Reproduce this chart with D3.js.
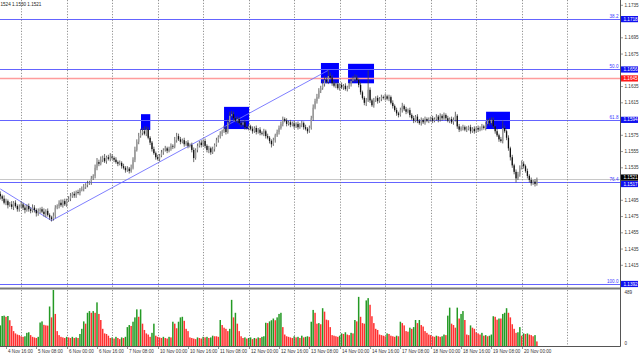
<!DOCTYPE html>
<html><head><meta charset="utf-8">
<script src="https://cdn.jsdelivr.net/npm/d3@7"></script>
<style>
html,body{margin:0;padding:0;background:#fff;overflow:hidden}
svg{display:block}
text{font-family:"Liberation Sans",Arial,sans-serif}
</style>
</head><body>
<svg id="c" width="640" height="356"></svg>
<script>
// ---- DATA (EURUSD H1, bars from 4 Nov 13:00 to 20 Nov 08:00) ----
const firstOpen = 1.1503;
const closes = [
1.1500,1.1497,1.1492,1.1494,1.1489,1.1490,1.1487,1.1492,1.1488,1.1484,
1.1487,1.1490,1.1486,1.1483,1.1488,1.1484,1.1482,1.1486,1.1483,1.1479,
1.1482,1.1484,1.1481,1.1478,1.1482,1.1477,1.1474,1.1472,1.1476,1.1486,
1.1488,1.1492,1.1489,1.1494,1.1490,1.1495,1.1497,1.1500,1.1503,1.1501,
1.1505,1.1504,1.1508,1.1509,1.1511,1.1514,1.1516,1.1517,1.1522,1.1525,
1.1535,1.1542,1.1540,1.1545,1.1547,1.1543,1.1548,1.1546,1.1549,1.1547,
1.1545,1.1542,1.1540,1.1541,1.1537,1.1535,1.1532,1.1534,1.1531,1.1535,
1.1545,1.1557,1.1567,1.1574,1.1578,1.1580,1.1577,1.1582,1.1572,1.1566,
1.1558,1.1553,1.1548,1.1546,1.1550,1.1554,1.1557,1.1559,1.1556,1.1558,
1.1562,1.1561,1.1569,1.1574,1.1570,1.1567,1.1569,1.1564,1.1566,1.1562,
1.1563,1.1557,1.1547,1.1557,1.1562,1.1566,1.1563,1.1568,1.1562,1.1557,
1.1559,1.1554,1.1558,1.1563,1.1569,1.1573,1.1577,1.1580,1.1583,1.1579,
1.1591,1.1599,1.1601,1.1596,1.1593,1.1595,1.1590,1.1588,1.1591,1.1585,
1.1584,1.1586,1.1583,1.1580,1.1584,1.1579,1.1582,1.1578,1.1577,1.1580,
1.1574,1.1572,1.1568,1.1564,1.1569,1.1575,1.1579,1.1584,1.1589,1.1595,
1.1593,1.1589,1.1591,1.1588,1.1590,1.1586,1.1589,1.1585,1.1588,1.1590,
1.1585,1.1583,1.1580,1.1584,1.1596,1.1609,1.1617,1.1622,1.1630,1.1633,
1.1638,1.1643,1.1641,1.1648,1.1646,1.1639,1.1636,1.1638,1.1633,1.1637,
1.1634,1.1636,1.1632,1.1634,1.1638,1.1642,1.1644,1.1646,1.1643,1.1637,
1.1628,1.1621,1.1615,1.1618,1.1631,1.1618,1.1612,1.1618,1.1621,1.1617,
1.1620,1.1622,1.1621,1.1623,1.1620,1.1622,1.1615,1.1611,1.1606,1.1602,
1.1600,1.1606,1.1611,1.1607,1.1604,1.1606,1.1600,1.1596,1.1593,1.1598,
1.1593,1.1590,1.1594,1.1591,1.1595,1.1593,1.1594,1.1596,1.1593,1.1595,
1.1598,1.1594,1.1599,1.1596,1.1600,1.1596,1.1593,1.1595,1.1591,1.1594,
1.1599,1.1586,1.1582,1.1584,1.1585,1.1582,1.1583,1.1585,1.1580,1.1583,
1.1580,1.1584,1.1582,1.1584,1.1586,1.1584,1.1589,1.1593,1.1590,1.1594,
1.1586,1.1580,1.1575,1.1570,1.1568,1.1584,1.1580,1.1572,1.1559,1.1548,
1.1538,1.1530,1.1522,1.1527,1.1535,1.1540,1.1537,1.1531,1.1525,1.1520,
1.1516,1.1518,1.1515,1.1521];
// wick lengths in pips above the body / below the body
const upperWick = [
3,2,4,3,2,3,4,2,3,2, 3,4,2,3,2,3,2,4,3,2, 3,2,3,4,2,3,2,2,4,3, 2,3,4,2,3,2,3,4,2,3,
2,3,2,3,4,2,3,2,3,2, 4,5,3,4,3,5,2,3,4,3, 2,3,2,3,2,3,2,3,2,4, 3,4,3,4,5,4,6,4,3,2,
2,3,2,3,2,3,2,3,2,3, 3,2,4,4,3,3,2,3,2,3, 2,3,3,2,3,2,3,2,3,2, 3,2,3,2,3,2,3,2,4,3,
4,5,4,3,2,3,2,3,2,3, 2,3,2,3,2,3,2,3,2,3, 2,3,2,2,3,2,3,3,3,3, 2,3,2,3,2,3,2,3,2,3,
2,3,2,3,3,4,3,4,3,3, 4,5,3,7,4,3,3,2,3,2, 3,2,3,2,3,3,4,4,3,2, 3,2,2,3,24,3,2,3,2,3,
2,3,2,3,2,3,2,3,2,3, 2,3,4,2,3,2,3,2,3,2, 3,2,3,2,3,2,3,2,3,2, 3,2,3,2,3,2,3,2,3,3,
5,2,3,2,3,2,3,2,3,2, 3,2,3,2,3,2,3,2,3,3, 3,2,3,2,3,9,3,2,3,2, 3,2,3,3,3,4,3,2,3,2,
3,2,3,2];
const lowerWick = [
4,3,2,3,4,2,3,4,2,3, 3,2,3,4,2,3,3,2,3,4, 3,3,2,3,4,2,3,3,2,3, 2,3,2,3,2,3,2,3,2,3,
3,2,3,2,3,2,3,2,3,2, 3,3,3,2,3,2,3,2,3,2, 3,2,3,2,3,2,3,2,3,2, 2,3,2,3,2,3,2,3,2,3,
3,2,3,2,3,2,3,2,3,2, 2,3,2,3,2,3,2,3,2,3, 2,3,5,2,3,2,3,2,3,3, 4,3,2,3,2,3,2,3,2,3,
2,3,2,3,2,3,2,3,2,3, 2,3,2,3,2,3,2,3,2,3, 3,2,3,4,2,3,2,3,2,3, 2,3,2,3,2,3,2,3,2,3,
3,2,3,2,2,3,2,3,2,3, 2,3,2,3,2,3,2,3,2,3, 2,3,2,3,2,3,2,3,2,3, 3,2,3,4,2,3,2,3,2,3,
2,3,2,3,2,3,2,3,2,3, 3,2,3,2,3,2,3,2,3,2, 3,2,3,2,3,2,3,2,3,2, 2,3,2,3,2,3,2,3,2,3,
2,3,3,2,3,2,3,2,3,2, 3,2,3,2,3,2,3,2,3,2, 2,3,2,3,2,3,2,3,3,4, 3,3,5,2,3,2,3,2,3,3,
3,2,3,2];
const volumes = [
180,262,265,255,262,225,175,130,110,100, 95,85,80,85,115,120,95,80,75,70,
80,205,215,185,180,178,345,250,489,280, 130,95,80,75,70,80,75,70,80,70,
75,70,105,150,215,195,290,305,290,305, 290,381,280,227,150,110,105,90,70,75,
65,80,70,60,75,70,80,165,183,175, 212,250,320,255,320,195,140,110,100,80,
115,195,90,80,75,70,80,70,65,80, 75,212,195,155,212,250,255,220,150,130,
75,70,65,60,75,70,65,80,75,80, 70,75,90,85,85,80,227,183,160,150,
130,150,403,250,290,195,130,85,70,75, 65,70,75,60,70,65,75,70,80,85,
203,200,215,225,240,225,250,280,290,165, 100,85,80,75,70,85,75,80,70,90,
75,80,85,80,212,315,290,195,200,190, 330,300,230,225,165,95,90,85,80,90,
110,105,120,100,95,115,110,227,215,429, 255,200,195,398,418,360,260,200,150,140,
100,95,90,85,110,105,90,85,80,90, 85,212,200,180,130,125,160,150,165,227,
200,227,183,170,130,115,100,95,85,80, 90,85,80,85,100,95,265,335,195,183,
160,335,240,280,305,227,100,95,180,160, 150,120,110,100,115,90,95,85,90,100,
260,255,230,240,240,280,290,330,290,250, 190,150,115,120,165,90,110,105,110,100,
95,85,95,40];

const tickIndex  = [3,19,35,51,67,83,99,115,131,147,163,179,195,211,227,243,259,275];
const tickLabels = ["4 Nov 16:00","5 Nov 08:00","6 Nov 00:00","6 Nov 16:00","7 Nov 08:00",
  "10 Nov 00:00","10 Nov 16:00","11 Nov 08:00","12 Nov 00:00","12 Nov 16:00","13 Nov 08:00",
  "14 Nov 00:00","14 Nov 16:00","17 Nov 08:00","18 Nov 00:00","18 Nov 16:00","19 Nov 08:00","20 Nov 00:00"];
const dayStartIndex = [11,35,59,83,107,131,155,179,203,227,251,275,299];
const priceTicks = [1.1735,1.1695,1.1675,1.1635,1.1615,1.1575,1.1555,1.1535,1.1495,1.1475,1.1455,1.1435,1.1415];
const fibLevels = ["38.2","50.0","61.8","76.4","100.0"];
const fibPrices = [1.1718,1.1656,1.1594,1.1517,1.1392];
const redLinePrice = 1.1645;
const bidPrice = 1.1521;
const zigzagIndex = [0,27,173];
const zigzagPrice = [1.1509,1.1470,1.1655];
const boxStart = [74.2,118.0,169.1,183.4,256.2];
const boxEnd   = [79.1,131.2,178.6,197.1,268.8];
const boxTop   = [1.1601,1.1610,1.1664,1.1663,1.1604];
const boxBottom= [1.15815,1.15827,1.1639,1.1639,1.15827];
const headerText = "1524 1.1530 1.1521";

// ---- DRAW ----
const svg = d3.select("#c");
const W = 620, priceBottom = 287, volTop = 290, volBottom = 346;
const x = d3.scaleLinear().domain([0, 283]).range([0.3, 536.9]);
const y = d3.scaleLinear().domain([1.1735, 1.1415]).range([5.3, 265.3]);
const vy = d3.scaleLinear().domain([0, d3.max(volumes)]).range([volBottom, volTop]);
const snap = v => Math.round(v) + 0.5;
const FONT = 4.6;

svg.append("rect").attr("width",640).attr("height",356).attr("fill","#fff");
const defs = svg.append("defs");
defs.append("clipPath").attr("id","pc").append("rect").attr("x",0).attr("y",0).attr("width",W).attr("height",priceBottom);
defs.append("clipPath").attr("id","vc").append("rect").attr("x",0).attr("y",volTop).attr("width",W).attr("height",volBottom-volTop);

const P = svg.append("g").attr("clip-path","url(#pc)");
const V = svg.append("g").attr("clip-path","url(#vc)");

// vertical dotted grid
dayStartIndex.filter(i => x(i) < 600).forEach(i => {
  [[0,priceBottom],[volTop,volBottom]].forEach(([a,b]) => {
    svg.append("line").attr("x1",snap(x(i))).attr("x2",snap(x(i)))
      .attr("y1",a).attr("y2",b).attr("stroke","#777").attr("stroke-width",0.8)
      .attr("stroke-dasharray","1.2,1.6");
  });
});

// boxes (background)
boxStart.forEach((s,k) => {
  P.append("rect").attr("x",x(s)).attr("width",x(boxEnd[k])-x(s))
    .attr("y",y(boxTop[k])).attr("height",y(boxBottom[k])-y(boxTop[k])).attr("fill","#0000ff");
});

// horizontal levels
P.append("line").attr("x1",0).attr("x2",W).attr("y1",y(redLinePrice)).attr("y2",y(redLinePrice))
  .attr("stroke","#ff9c9c").attr("stroke-width",1.6);
P.append("line").attr("x1",0).attr("x2",W).attr("y1",snap(y(bidPrice))).attr("y2",snap(y(bidPrice)))
  .attr("stroke","#c8c8c8").attr("stroke-width",1);
fibPrices.forEach((p,k) => {
  P.append("line").attr("x1",0).attr("x2",W).attr("y1",snap(y(p))).attr("y2",snap(y(p)))
    .attr("stroke","#6464ff").attr("stroke-width",1);
  P.append("text").attr("x",618.5).attr("y",snap(y(p))-1.2).attr("text-anchor","end")
    .attr("font-size",FONT).attr("fill","#3a3aff").text(fibLevels[k]);
});

// zigzag
P.append("path").attr("d", d3.line()(zigzagIndex.map((i,k)=>[x(i), y(zigzagPrice[k])])))
  .attr("fill","none").attr("stroke","#7070ff").attr("stroke-width",0.9);

// candles
closes.forEach((c,i) => {
  const o = i === 0 ? firstOpen : closes[i-1];
  const h = Math.max(o,c) + upperWick[i]*1e-4;
  const l = Math.min(o,c) - lowerWick[i]*1e-4;
  const cx = x(i);
  P.append("line").attr("x1",cx).attr("x2",cx).attr("y1",y(h)).attr("y2",y(l))
    .attr("stroke","#444").attr("stroke-width",0.8);
  const top = y(Math.max(o,c)), bot = y(Math.min(o,c));
  P.append("rect").attr("x",cx-0.65).attr("width",1.3).attr("y",top).attr("height",Math.max(0.6,bot-top))
    .attr("fill", c >= o ? "#9a9a9a" : "#111");
});

// volumes
volumes.forEach((v,i) => {
  const up = i === 0 ? true : v > volumes[i-1];
  V.append("rect").attr("x",x(i)-0.75).attr("width",1.5).attr("y",vy(v)).attr("height",volBottom-vy(v))
    .attr("fill", up ? "#249a24" : "#ff3030");
});

// frame
svg.append("line").attr("x1",0).attr("x2",W).attr("y1",288.5).attr("y2",288.5).attr("stroke","#7a7a7a").attr("stroke-width",2);
svg.append("line").attr("x1",0).attr("x2",W+0.5).attr("y1",volBottom+0.5).attr("y2",volBottom+0.5).attr("stroke","#555").attr("stroke-width",1);
svg.append("line").attr("x1",W+0.5).attr("x2",W+0.5).attr("y1",0).attr("y2",volBottom+0.5).attr("stroke","#555").attr("stroke-width",1);

// price axis ticks
priceTicks.forEach(p => {
  svg.append("line").attr("x1",W).attr("x2",W+3).attr("y1",y(p)).attr("y2",y(p)).attr("stroke","#555").attr("stroke-width",0.6);
  svg.append("text").attr("x",W+4.5).attr("y",y(p)).attr("dy","0.35em").attr("font-size",FONT).attr("fill","#333").text(p.toFixed(4));
});
function tag(p, fill, shift) {
  const cy = y(p) + shift;
  svg.append("rect").attr("x",W+1).attr("y",cy-3.1).attr("width",17).attr("height",6.2).attr("fill",fill);
  svg.append("text").attr("x",W+3.5).attr("y",cy).attr("dy","0.35em").attr("font-size",FONT).attr("fill","#fff").text(p.toFixed(4));
}
tag(fibPrices[0], "#1010f0", 0);
tag(fibPrices[1], "#1010f0", 0);
tag(fibPrices[2], "#1010f0", 0);
tag(fibPrices[4], "#1010f0", 0);
tag(redLinePrice, "#ff1a1a", 0);
tag(bidPrice, "#000", -1.6);
tag(fibPrices[3], "#1010f0", 1.6);

// volume axis
svg.append("text").attr("x",W+4.5).attr("y",volTop+2).attr("dy","0.35em").attr("font-size",FONT).attr("fill","#333").text(d3.max(volumes));
svg.append("text").attr("x",W+4.5).attr("y",volBottom-3).attr("dy","0.35em").attr("font-size",FONT).attr("fill","#333").text("0");

// time axis
tickIndex.forEach((i,k) => {
  const tx = snap(x(i));
  svg.append("line").attr("x1",tx).attr("x2",tx).attr("y1",volBottom).attr("y2",volBottom+3).attr("stroke","#555").attr("stroke-width",0.6);
  svg.append("text").attr("x",tx+1.5).attr("y",352.5).attr("font-size",FONT).attr("fill","#333").text(tickLabels[k]);
});

// header
svg.append("text").attr("x",0.5).attr("y",6).attr("font-size",FONT).attr("fill","#222").text(headerText);
</script>
</body></html>
